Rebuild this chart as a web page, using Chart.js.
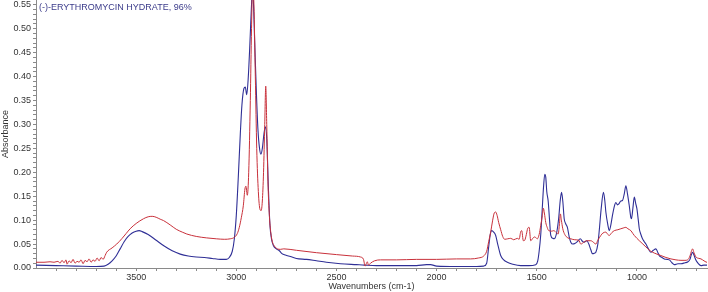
<!DOCTYPE html>
<html>
<head>
<meta charset="utf-8">
<script src="https://cdn.jsdelivr.net/npm/chart.js@4"></script>
<style>
  html, body { margin: 0; padding: 0; background: #fff; }
  #wrap { width: 708px; height: 292px; }
</style>
</head>
<body>
<div id="wrap"><canvas id="irChart"></canvas></div>
<script>
// Spectrum data (wavenumber, absorbance)
const sampleName = '(-)-ERYTHROMYCIN HYDRATE, 96%';

const blueWn = [4000, 3900, 3800, 3700, 3660, 3640, 3620, 3600, 3580, 3560, 3540, 3520, 3500, 3485, 3470, 3440, 3400, 3360, 3320, 3280, 3240, 3200, 3160, 3120, 3080, 3050, 3035, 3020, 3010, 3000, 2990, 2980, 2972, 2962, 2955, 2948, 2940, 2932, 2925, 2920, 2915, 2908, 2900, 2892, 2884, 2877, 2870, 2862, 2855, 2848, 2840, 2832, 2824, 2815, 2800, 2785, 2772, 2755, 2730, 2700, 2650, 2600, 2550, 2480, 2400, 2360, 2300, 2200, 2100, 2050, 2030, 2000, 1900, 1800, 1765, 1750, 1740, 1732, 1725, 1715, 1705, 1695, 1680, 1665, 1647, 1620, 1580, 1540, 1505, 1495, 1488, 1480, 1473, 1466, 1460, 1455, 1450, 1443, 1436, 1430, 1420, 1413, 1400, 1390, 1383, 1376, 1370, 1363, 1355, 1347, 1338, 1330, 1320, 1310, 1295, 1283, 1270, 1263, 1250, 1240, 1230, 1222, 1212, 1205, 1195, 1188, 1178, 1167, 1160, 1155, 1145, 1138, 1130, 1122, 1112, 1105, 1097, 1090, 1080, 1072, 1063, 1055, 1047, 1038, 1030, 1027, 1020, 1013, 1006, 1000, 993, 988, 980, 972, 963, 955, 940, 930, 918, 905, 895, 888, 875, 863, 850, 838, 825, 813, 795, 780, 760, 747, 735, 728, 722, 715, 705, 695, 680, 665, 650];
const blueAbs = [0.006, 0.005, 0.004, 0.003, 0.004, 0.008, 0.015, 0.025, 0.04, 0.055, 0.066, 0.073, 0.077, 0.078, 0.076, 0.07, 0.058, 0.046, 0.036, 0.029, 0.025, 0.023, 0.022, 0.02, 0.018, 0.018, 0.022, 0.035, 0.06, 0.11, 0.19, 0.28, 0.34, 0.375, 0.378, 0.362, 0.40, 0.47, 0.54, 0.58, 0.56, 0.47, 0.37, 0.29, 0.25, 0.238, 0.25, 0.28, 0.295, 0.27, 0.17, 0.09, 0.06, 0.047, 0.04, 0.036, 0.03, 0.027, 0.024, 0.02, 0.018, 0.015, 0.012, 0.009, 0.007, 0.006, 0.005, 0.005, 0.005, 0.007, 0.007, 0.004, 0.003, 0.003, 0.004, 0.01, 0.044, 0.07, 0.078, 0.075, 0.068, 0.05, 0.026, 0.017, 0.012, 0.008, 0.005, 0.005, 0.007, 0.015, 0.035, 0.07, 0.12, 0.17, 0.196, 0.19, 0.16, 0.14, 0.1, 0.068, 0.062, 0.061, 0.075, 0.106, 0.14, 0.158, 0.14, 0.103, 0.092, 0.085, 0.065, 0.054, 0.05, 0.051, 0.056, 0.061, 0.055, 0.054, 0.057, 0.05, 0.038, 0.03, 0.031, 0.033, 0.05, 0.078, 0.125, 0.158, 0.14, 0.117, 0.09, 0.078, 0.09, 0.11, 0.13, 0.137, 0.132, 0.134, 0.14, 0.141, 0.155, 0.172, 0.155, 0.13, 0.105, 0.103, 0.125, 0.148, 0.135, 0.124, 0.1, 0.082, 0.07, 0.061, 0.055, 0.05, 0.038, 0.033, 0.037, 0.04, 0.032, 0.026, 0.022, 0.019, 0.018, 0.017, 0.011, 0.007, 0.009, 0.009, 0.011, 0.0125, 0.018, 0.028, 0.033, 0.027, 0.016, 0.01, 0.005, 0.006, 0.006];

const redWn = [4000, 3960, 3930, 3910, 3890, 3880, 3870, 3860, 3850, 3845, 3835, 3825, 3815, 3805, 3795, 3785, 3775, 3765, 3755, 3745, 3735, 3725, 3715, 3705, 3695, 3685, 3675, 3665, 3655, 3647, 3620, 3597, 3570, 3550, 3530, 3500, 3463, 3440, 3420, 3400, 3380, 3363, 3330, 3300, 3270, 3247, 3200, 3150, 3100, 3060, 3030, 3010, 2995, 2985, 2975, 2965, 2957, 2952, 2945, 2938, 2930, 2924, 2918, 2912, 2905, 2898, 2890, 2882, 2876, 2870, 2864, 2858, 2853, 2848, 2842, 2835, 2828, 2820, 2810, 2795, 2780, 2763, 2700, 2600, 2500, 2420, 2380, 2365, 2357, 2352, 2346, 2340, 2330, 2310, 2280, 2200, 2100, 2000, 1900, 1830, 1790, 1765, 1750, 1740, 1730, 1720, 1712, 1705, 1698, 1690, 1680, 1670, 1660, 1645, 1630, 1615, 1597, 1588, 1580, 1575, 1567, 1560, 1552, 1545, 1538, 1530, 1520, 1510, 1497, 1488, 1480, 1472, 1467, 1462, 1455, 1448, 1440, 1425, 1415, 1400, 1393, 1387, 1382, 1377, 1370, 1360, 1345, 1330, 1310, 1290, 1280, 1265, 1250, 1230, 1215, 1205, 1195, 1180, 1170, 1155, 1145, 1138, 1125, 1113, 1095, 1080, 1065, 1055, 1045, 1030, 1020, 1013, 1000, 988, 970, 955, 940, 922, 900, 880, 855, 830, 805, 780, 760, 747, 735, 728, 722, 715, 705, 690, 680, 665, 655, 650];
const redAbs = [0.012, 0.012, 0.013, 0.012, 0.014, 0.010, 0.016, 0.011, 0.017, 0.008, 0.015, 0.011, 0.018, 0.010, 0.014, 0.012, 0.017, 0.009, 0.016, 0.013, 0.019, 0.012, 0.017, 0.014, 0.021, 0.015, 0.022, 0.018, 0.026, 0.033, 0.042, 0.05, 0.062, 0.072, 0.082, 0.093, 0.103, 0.107, 0.108, 0.106, 0.102, 0.099, 0.09, 0.081, 0.075, 0.071, 0.066, 0.063, 0.061, 0.06, 0.061, 0.064, 0.072, 0.085, 0.105, 0.13, 0.165, 0.171, 0.152, 0.2, 0.35, 0.5, 0.6, 0.55, 0.4, 0.25, 0.16, 0.123, 0.12, 0.14, 0.2, 0.3, 0.38, 0.3, 0.18, 0.11, 0.075, 0.055, 0.046, 0.04, 0.039, 0.04, 0.037, 0.032, 0.028, 0.025, 0.023, 0.018, 0.004, 0.008, 0.013, 0.006, 0.01, 0.015, 0.017, 0.017, 0.018, 0.018, 0.019, 0.019, 0.021, 0.025, 0.035, 0.055, 0.075, 0.1, 0.115, 0.117, 0.11, 0.095, 0.08, 0.066, 0.06, 0.061, 0.062, 0.059, 0.062, 0.06, 0.076, 0.078, 0.057, 0.058, 0.07, 0.083, 0.085, 0.057, 0.062, 0.065, 0.061, 0.07, 0.089, 0.11, 0.125, 0.115, 0.095, 0.085, 0.078, 0.077, 0.078, 0.073, 0.071, 0.09, 0.113, 0.1, 0.082, 0.07, 0.063, 0.061, 0.059, 0.058, 0.05, 0.054, 0.057, 0.057, 0.053, 0.05, 0.058, 0.068, 0.073, 0.075, 0.07, 0.068, 0.074, 0.078, 0.08, 0.082, 0.084, 0.085, 0.082, 0.078, 0.072, 0.068, 0.062, 0.057, 0.05, 0.044, 0.038, 0.033, 0.029, 0.026, 0.022, 0.019, 0.017, 0.016, 0.016, 0.017, 0.025, 0.035, 0.04, 0.032, 0.023, 0.02, 0.019, 0.015, 0.0125, 0.012];

// axis ticks: minor every 100 cm-1 / 0.01, labels on the major ones
const xTicks = [700, 800, 900, 1000, 1100, 1200, 1300, 1400, 1500, 1600, 1700, 1800, 1900, 2000, 2100, 2200, 2300, 2400, 2500, 2600, 2700, 2800, 2900, 3000, 3100, 3200, 3300, 3400, 3500, 3600, 3700, 3800, 3900];
const xLabels = [1000, 1500, 2000, 2500, 3000, 3500];
const yTicks = [0, 0.01, 0.02, 0.03, 0.04, 0.05, 0.06, 0.07, 0.08, 0.09, 0.10, 0.11, 0.12, 0.13, 0.14, 0.15, 0.16, 0.17, 0.18, 0.19, 0.20, 0.21, 0.22, 0.23, 0.24, 0.25, 0.26, 0.27, 0.28, 0.29, 0.30, 0.31, 0.32, 0.33, 0.34, 0.35, 0.36, 0.37, 0.38, 0.39, 0.40, 0.41, 0.42, 0.43, 0.44, 0.45, 0.46, 0.47, 0.48, 0.49, 0.50, 0.51, 0.52, 0.53, 0.54, 0.55];
const yLabels = ['0.00', '0.05', '0.10', '0.15', '0.20', '0.25', '0.30', '0.35', '0.40', '0.45', '0.50', '0.55'];

const toPoints = (xs, ys) => xs.map((x, i) => ({ x: x, y: ys[i] }));

const axisFont = { family: '"Liberation Sans", Arial, sans-serif', size: 9 };

// sample name drawn inside the plot, top left
const namePlugin = {
    id: 'sampleName',
    afterDraw(chart) {
        const ctx = chart.ctx;
        const area = chart.chartArea;
        ctx.save();
        ctx.font = '9px "Liberation Sans", Arial, sans-serif';
        ctx.fillStyle = '#3b3b8a';
        ctx.textBaseline = 'alphabetic';
        ctx.fillText(sampleName, area.left + 3, area.top + 10);
        ctx.restore();
    }
};

new Chart(document.getElementById('irChart'), {
    type: 'line',
    data: {
        datasets: [
            {
                label: 'Reference',
                data: toPoints(redWn, redAbs),
                borderColor: '#c8303a',
                borderWidth: 1,
                pointRadius: 0,
                cubicInterpolationMode: 'monotone'
            },
            {
                label: sampleName,
                data: toPoints(blueWn, blueAbs),
                borderColor: '#2f2f96',
                borderWidth: 1.1,
                pointRadius: 0,
                cubicInterpolationMode: 'monotone'
            }
        ]
    },
    options: {
        responsive: true,
        maintainAspectRatio: false,
        animation: false,
        layout: { padding: { top: 0, right: 1, left: 0, bottom: 0 } },
        plugins: {
            legend: { display: false },
            tooltip: { enabled: false }
        },
        scales: {
            x: {
                type: 'linear',
                reverse: true,
                min: 650,
                max: 4000,
                afterBuildTicks: axis => { axis.ticks = xTicks.map(v => ({ value: v })); },
                afterFit: axis => { axis.height = 24; axis.paddingLeft = 0; axis.paddingRight = 0; },
                border: { color: '#8a8a8a' },
                grid: { drawOnChartArea: false, tickLength: 3, color: '#8a8a8a' },
                ticks: {
                    autoSkip: false,
                    maxRotation: 0,
                    padding: 1,
                    color: '#333',
                    font: axisFont,
                    callback: v => xLabels.includes(v) ? String(v) : ''
                },
                title: {
                    display: true,
                    text: 'Wavenumbers (cm-1)',
                    color: '#333',
                    font: axisFont,
                    padding: { top: 3, bottom: 0 }
                }
            },
            y: {
                min: 0,
                max: 0.56,
                afterBuildTicks: axis => { axis.ticks = yTicks.map(v => ({ value: v })); },
                afterFit: axis => { axis.width = 36; axis.paddingTop = 0; axis.paddingBottom = 0; },
                border: { color: '#8a8a8a' },
                grid: { drawOnChartArea: false, tickLength: 3, color: '#8a8a8a' },
                ticks: {
                    autoSkip: false,
                    padding: 2,
                    color: '#333',
                    font: axisFont,
                    callback: v => {
                        const s = v.toFixed(2);
                        return yLabels.includes(s) ? s : '';
                    }
                },
                title: {
                    display: true,
                    text: 'Absorbance',
                    color: '#333',
                    font: axisFont,
                    padding: { top: 0, bottom: 0 }
                }
            }
        }
    },
    plugins: [namePlugin]
});
</script>
</body>
</html>
